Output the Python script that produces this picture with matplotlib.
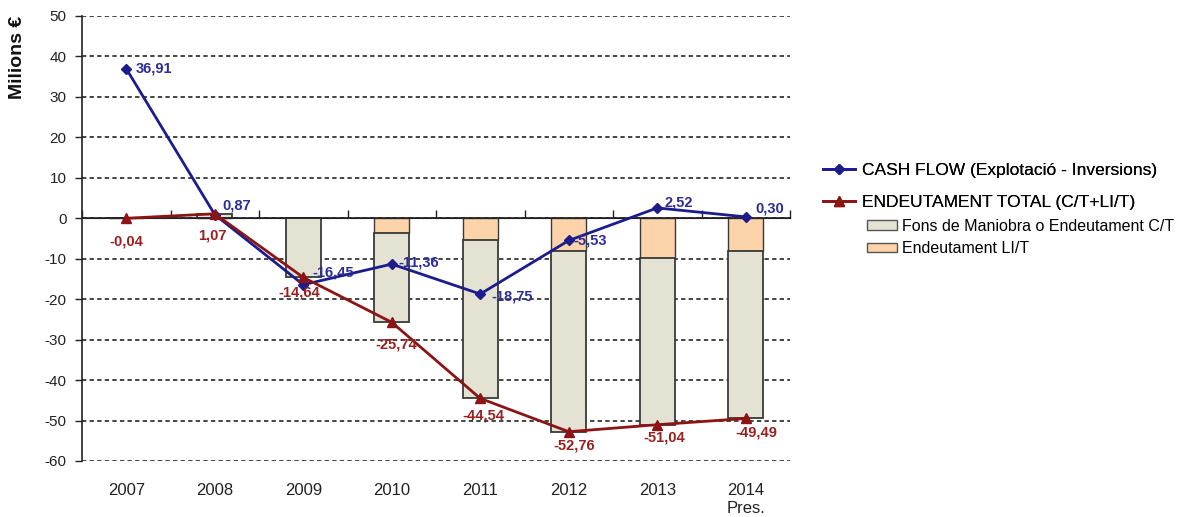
import numpy as np
import matplotlib.pyplot as plt
from matplotlib.lines import Line2D
from matplotlib.patches import Patch

plt.rcParams['font.family'] = ['Liberation Sans', 'DejaVu Sans']
plt.rcParams['axes.unicode_minus'] = False

# Dades (milions d'euros)
years = ['2007', '2008', '2009', '2010', '2011', '2012', '2013', '2014\nPres.']
cash_flow = [36.91, 0.87, -16.45, -11.36, -18.75, -5.53, 2.52, 0.30]
endeutament_total = [-0.04, 1.07, -14.64, -25.74, -44.54, -52.76, -51.04, -49.49]
endeutament_lt = [0.0, 0.0, 0.0, -3.75, -5.40, -8.10, -9.75, -8.10]
fons_maniobra_ct = [-0.04, 1.07, -14.64, -21.99, -39.14, -44.66, -41.29, -41.39]
yticks = list(range(-60, 51, 10))

blue = '#1c1c8c'
red = '#8c1414'
beige = '#e4e2d3'
orange = '#fdd4aa'

W, H = 1181, 517
fig = plt.figure(figsize=(W / 100, H / 100), dpi=100)
ax = fig.add_axes([82 / W, 1 - 461 / H, (790 - 82) / W, (461 - 15.7) / H])

x = np.arange(len(years))

# barres apilades: LI/T a dalt, C/T a sota
ax.bar(x, endeutament_lt, width=0.4, color=orange, edgecolor='#3a3a3a', lw=1, zorder=2)
ax.bar(x, fons_maniobra_ct, width=0.4, bottom=endeutament_lt, color=beige,
       edgecolor='#3a3a3a', lw=1.3, zorder=2)

ax.plot(x, cash_flow, color=blue, lw=2, marker='D', ms=5, zorder=4)
ax.plot(x, endeutament_total, color=red, lw=2, marker='^', ms=6.5, zorder=5)

# etiquetes de valor
cf_offsets = [(9, 0), (8, 9), (9, 12), (7, 2), (11, -2), (5, 0), (7, 5), (10, 8)]
for xi, v, off in zip(x, cash_flow, cf_offsets):
    ax.annotate(f'{v:.2f}'.replace('.', ','), (xi, v), xytext=off, textcoords='offset pixels',
                ha='left', va='center', fontsize=10.5, fontweight='bold', color='#2c2c9a', zorder=6)

et_offsets = [(0, -23), (-2, -22), (-4, -15), (4, -22), (3, -17), (5, -14), (7, -13), (11, -14)]
for xi, v, off in zip(x, endeutament_total, et_offsets):
    ax.annotate(f'{v:.2f}'.replace('.', ','), (xi, v), xytext=off, textcoords='offset pixels',
                ha='center', va='center', fontsize=10.5, fontweight='bold', color='#9a2020', zorder=6)

# eixos
ax.set_xlim(-0.5, len(years) - 0.5)
ax.set_ylim(-60, 50)
ax.set_yticks(yticks)
ax.tick_params(axis='y', direction='out', length=5, width=1, pad=6, labelsize=11, colors='#222')
ax.set_xticks(x)
ax.set_xticklabels(years)
ax.tick_params(axis='x', length=0, pad=16, labelsize=12, colors='#222')
for t in ax.get_xticklabels():
    t.set_va('top')

ax.grid(axis='y', ls=(0, (2.4, 1.8)), color='#363636', lw=1.3, zorder=1)
ax.set_axisbelow(True)
for s in ['top', 'right', 'bottom']:
    ax.spines[s].set_visible(False)
ax.spines['left'].set_color('#222')
ax.spines['left'].set_linewidth(1.2)

# línia del zero amb marques entre categories
ax.axhline(0, color='#222', lw=1.2, zorder=3)
zero = ax.secondary_xaxis(60 / 110)
zero.set_xticks(np.arange(-0.5, len(years), 1))
zero.set_xticklabels([])
zero.tick_params(direction='out', length=6, width=1, color='#222')
zero.spines['bottom'].set_visible(False)

fig.text(18 / W, 1 - 57 / H, 'Milions €', rotation=90, ha='center', va='center',
         fontsize=14, fontweight='bold', color='#111')

# llegendes
line_handles = [
    Line2D([], [], color=blue, lw=2, marker='D', ms=5),
    Line2D([], [], color=red, lw=2, marker='^', ms=6.5),
]
leg1 = fig.legend(line_handles, ['CASH FLOW (Explotació - Inversions)', 'ENDEUTAMENT TOTAL (C/T+LI/T)'],
                  loc='upper left', bbox_to_anchor=(823 / W, 1 - 163 / H), frameon=False,
                  fontsize=12.5, borderpad=0, borderaxespad=0, handlelength=1.85,
                  handletextpad=0.4, labelspacing=0.98)
patch_handles = [
    Patch(facecolor=beige, edgecolor='#555555', lw=1),
    Patch(facecolor=orange, edgecolor='#555555', lw=1),
]
leg2 = fig.legend(patch_handles, ['Fons de Maniobra o Endeutament C/T', 'Endeutament LI/T'],
                  loc='upper left', bbox_to_anchor=(867 / W, 1 - 219 / H), frameon=False,
                  fontsize=11.5, borderpad=0, borderaxespad=0, handlelength=1.875,
                  handleheight=0.56, handletextpad=0.3, labelspacing=0.45)
fig.add_artist(leg1)

fig.savefig('out.png', dpi=100)
